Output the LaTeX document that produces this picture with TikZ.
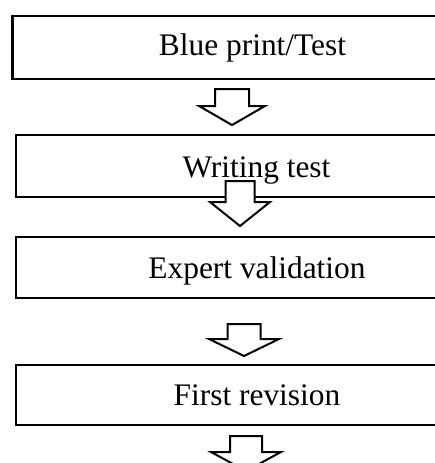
\documentclass[tikz,border=0pt]{standalone}
\usepackage{fontspec}
\setmainfont{Liberation Serif}
\usepackage{tikz}

\newcommand{\downblock}[6]{\draw [blockarrow] (#1-#2,#4) -- (#1+#2,#4) -- (#1+#2,#5) -- (#1+#3,#5) -- (#1,#6) -- (#1-#3,#5) -- (#1-#2,#5) -- cycle;}

\begin{document}
\begin{tikzpicture}[x=1pt,y=-1pt,
		stepbox/.style={draw, line width=2.6pt, rectangle, inner sep=0pt},
		steplabel/.style={anchor=base, inner sep=0pt, font=\fontsize{31.4}{36}\selectfont},
		blockarrow/.style={draw, line width=2pt, fill=white, line join=miter}]
		\useasboundingbox (0,0) rectangle (435,463);
		\clip (0,0) rectangle (435,463);
		
		\node [stepbox, minimum width=480, minimum height=63] (blueprint) at (252.5,47.5) {};
		\node [stepbox, minimum width=482, minimum height=62] (writing) at (257,166) {};
		\node [stepbox, minimum width=482, minimum height=61] (expert) at (257,267.5) {};
		\node [stepbox, minimum width=482, minimum height=60] (revision) at (257,395) {};
		
		\downblock{232}{17}{33}{89}{106}{125}
		\downblock{240}{14.5}{30}{181}{202}{226}
		\downblock{244}{16.5}{35}{324}{339}{356}
		\downblock{246}{16}{35}{436}{452}{471}
		
		\node [steplabel] (blueprinttext) at (252.5,55) {Blue print/Test};
		\node [steplabel] (writingtext) at (256.5,177) {Writing test};
		\node [steplabel] (experttext) at (257,278) {Expert validation};
		\node [steplabel] (revisiontext) at (257,405) {First revision};
\end{tikzpicture}
\end{document}
